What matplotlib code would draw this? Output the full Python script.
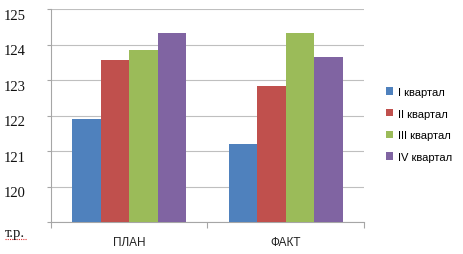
import matplotlib
matplotlib.use("Agg")
import matplotlib.pyplot as plt
import matplotlib.transforms as mtransforms
from matplotlib.patches import Patch
import numpy as np

categories = ["ПЛАН", "ФАКТ"]
series = ["I квартал", "II квартал", "III квартал", "IV квартал"]
values = {
    "I квартал": [121.9, 121.2],
    "II квартал": [123.57, 122.82],
    "III квартал": [123.85, 124.32],
    "IV квартал": [124.32, 123.66],
}
colors = ["#4F81BD", "#C0504D", "#9BBB59", "#8064A2"]
yticks = [120, 121, 122, 123, 124, 125]

fig = plt.figure(figsize=(4.64, 2.55), dpi=100)
ax = fig.add_axes([51/464, 1-223/255, (364-51)/464, (223-10)/255])

x = np.arange(len(categories))
w = 0.182
for i, s in enumerate(series):
    ax.bar(x + (i - 1.5) * w, values[s], width=w, bottom=0, color=colors[i],
           edgecolor="none", zorder=3)

ax.set_ylim(119, 125)
ax.set_xlim(-0.5, 1.5)
ax.set_yticks([119] + yticks)
ax.set_yticklabels([""] + [str(t) for t in yticks], fontfamily="Liberation Serif",
                   fontsize=10.5, color="#111111")
ax.tick_params(axis="y", length=3, color="#A6A6A6", pad=15, width=0.8)
offset = mtransforms.ScaledTranslation(0, -5/100, fig.dpi_scale_trans)
for lab in ax.get_yticklabels():
    lab.set_transform(lab.get_transform() + offset)

ax.set_xticks([-0.5, 0.5, 1.5])
ax.set_xticklabels(["", "", ""])
ax.set_xticks(x, minor=True)
ax.set_xticklabels(categories, minor=True, fontfamily="Liberation Sans",
                   fontsize=8.5, color="#222222")
ax.tick_params(axis="x", which="major", length=4, color="#A6A6A6", width=0.8)
ax.tick_params(axis="x", which="minor", length=0, pad=10)

ax.grid(axis="y", color="#BFBFBF", linewidth=0.8, zorder=0)
for sp in ["top", "right"]:
    ax.spines[sp].set_visible(False)
for sp in ["left", "bottom"]:
    ax.spines[sp].set_color("#A6A6A6")
    ax.spines[sp].set_linewidth(0.8)

fig.text(5/464, 1-234/255, "т.р.", fontfamily="Liberation Serif", fontsize=10.5,
         color="#111111", va="center", ha="left")
fig.add_artist(plt.Line2D([5/464, 27/464], [1-240/255, 1-240/255], color="#E03030",
                          linewidth=0.8, linestyle=(0, (1, 1))))

handles = [Patch(facecolor=c, edgecolor="none") for c in colors]
fig.legend(handles, series, loc="upper left", bbox_to_anchor=(386/464, 1-88/255),
           frameon=False, handlelength=0.65, handleheight=0.65, handletextpad=0.4,
           labelspacing=1.05, prop={"family": "Liberation Sans", "size": 8},
           borderaxespad=0, borderpad=0)

fig.savefig("out.png", dpi=100)
